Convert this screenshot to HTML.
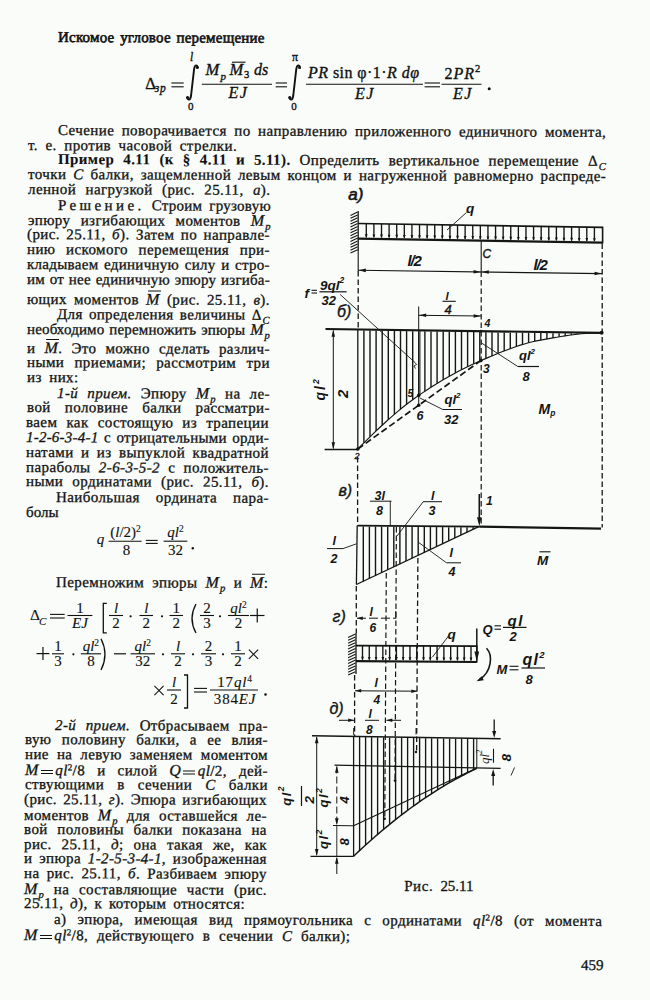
<!DOCTYPE html>
<html><head><meta charset="utf-8">
<style>
html,body{margin:0;padding:0;background:#f9fcf8;}
body{width:650px;height:1000px;position:relative;overflow:hidden;}
.ln{position:absolute;font-family:"Liberation Serif",serif;font-size:15px;line-height:15px;height:15px;white-space:nowrap;color:#111;-webkit-text-stroke:0.3px #111;
transform:rotate(0.2deg);transform-origin:0 12px;}
.j{text-align:justify;text-align-last:justify;}
sub{font-size:10.5px;vertical-align:-3.5px;line-height:0;font-style:italic;margin-left:0.8px;}
sup{font-size:9px;vertical-align:5px;line-height:0;}
.ov{position:relative;}
.ov::before{content:"";position:absolute;left:2px;right:-1px;top:0px;border-top:1.2px solid #111;}
.sp{letter-spacing:3.4px;}
.m{font-size:16px;}
.hv{-webkit-text-stroke:0.6px #111;}
.eq{display:inline-block;width:12px;height:1.9px;border-top:1.1px solid #111;border-bottom:1.1px solid #111;vertical-align:1.5px;margin:0 2.5px 0 2px;}
svg{position:absolute;left:0;top:0;}
.f{font-family:"Liberation Serif",serif;fill:#111;}
.f text{stroke:#111;stroke-width:0.25px;}
.f1 text{stroke-width:0.35px;}
.f2 text{stroke-width:0.12px;}
b{-webkit-text-stroke:0.1px #111;}
</style></head><body>
<div class="ln j hv" style="left:58.4px;top:30.0px;width:206.6px;letter-spacing:0.20px;">Искомое угловое перемещение</div>
<div class="ln j" style="left:57.9px;top:123.3px;width:548.2px;letter-spacing:0.40px;">Сечение поворачивается по направлению приложенного единичного момента,</div>
<div class="ln j" style="left:27.9px;top:137.6px;width:209.1px;letter-spacing:0.40px;">т. е. против часовой стрелки.</div>
<div class="ln j" style="left:57.8px;top:152.4px;width:548.2px;letter-spacing:0.40px;"><b>Пример 4.11 (к § 4.11 и 5.11).</b> Определить вертикальное перемещение Δ<sub>C</sub></div>
<div class="ln j" style="left:27.7px;top:167.2px;width:578.2px;letter-spacing:0.40px;">точки <i>C</i> балки, защемленной левым концом и нагруженной равномерно распреде-</div>
<div class="ln j" style="left:27.6px;top:182.0px;width:242.4px;letter-spacing:0.40px;">ленной нагрузкой (рис. 25.11, <i>а</i>).</div>
<div class="ln j" style="left:57.5px;top:197.6px;width:212.9px;letter-spacing:0.25px;"><span class="sp">Решение.</span> Строим грузовую</div>
<div class="ln j" style="left:27.5px;top:212.3px;width:242.9px;letter-spacing:0.40px;">эпюру изгибающих моментов <i class="m">M</i><sub>p</sub></div>
<div class="ln j" style="left:27.4px;top:227.3px;width:242.9px;letter-spacing:0.40px;">(рис. 25.11, <i>б</i>). Затем по направле-</div>
<div class="ln j" style="left:27.3px;top:242.1px;width:242.9px;letter-spacing:0.40px;">нию искомого перемещения при-</div>
<div class="ln j" style="left:27.2px;top:256.8px;width:242.9px;letter-spacing:0.29px;">кладываем единичную силу и стро-</div>
<div class="ln j" style="left:27.2px;top:271.5px;width:242.9px;letter-spacing:0.20px;">им от нее единичную эпюру изгиба-</div>
<div class="ln j" style="left:27.1px;top:291.2px;width:242.9px;letter-spacing:0.40px;">ющих моментов <i class="ov m">M</i> (рис. 25.11, <i>в</i>).</div>
<div class="ln j" style="left:57.0px;top:306.6px;width:212.9px;letter-spacing:0.35px;">Для определения величины Δ<sub>C</sub></div>
<div class="ln j" style="left:26.9px;top:321.4px;width:242.9px;letter-spacing:0.15px;">необходимо перемножить эпюры <i class="m">M</i><sub>p</sub></div>
<div class="ln j" style="left:26.8px;top:340.3px;width:242.9px;letter-spacing:0.40px;">и <i class="ov m">M</i>. Это можно сделать различ-</div>
<div class="ln j" style="left:26.7px;top:355.4px;width:242.9px;letter-spacing:0.40px;">ными приемами; рассмотрим три</div>
<div class="ln j" style="left:26.6px;top:370.2px;width:51.6px;letter-spacing:0.40px;">из них:</div>
<div class="ln j" style="left:56.6px;top:385.3px;width:212.9px;letter-spacing:0.40px;"><i>1-й прием.</i> Эпюру <i class="m">M</i><sub>p</sub> на ле-</div>
<div class="ln j" style="left:26.5px;top:400.3px;width:242.9px;letter-spacing:0.40px;">вой половине балки рассматри-</div>
<div class="ln j" style="left:26.4px;top:415.2px;width:242.9px;letter-spacing:0.40px;">ваем как состоящую из трапеции</div>
<div class="ln j" style="left:26.3px;top:430.2px;width:242.9px;letter-spacing:0.22px;"><i>1-2-6-3-4-1</i> с отрицательными орди-</div>
<div class="ln j" style="left:26.2px;top:444.9px;width:242.9px;letter-spacing:0.40px;">натами и из выпуклой квадратной</div>
<div class="ln j" style="left:26.2px;top:459.6px;width:242.9px;letter-spacing:0.40px;">параболы <i>2-6-3-5-2</i> с положитель-</div>
<div class="ln j" style="left:26.1px;top:474.4px;width:242.9px;letter-spacing:0.40px;">ными ординатами (рис. 25.11, <i>б</i>).</div>
<div class="ln j" style="left:56.0px;top:489.8px;width:212.9px;letter-spacing:0.40px;">Наибольшая ордината пара-</div>
<div class="ln" style="left:25.9px;top:504.6px;width:242.9px;">болы</div>
<div class="ln j" style="left:55.6px;top:574.0px;width:212.4px;letter-spacing:0.40px;">Перемножим эпюры <i class="m">M</i><sub>p</sub> и <i class="ov m">M</i>:</div>
<div class="ln j" style="left:54.8px;top:717.5px;width:212.9px;letter-spacing:0.40px;"><i>2-й прием.</i> Отбрасываем пра-</div>
<div class="ln j" style="left:24.7px;top:732.3px;width:242.9px;letter-spacing:0.40px;">вую половину балки, а ее влия-</div>
<div class="ln j" style="left:24.6px;top:747.1px;width:242.9px;letter-spacing:0.40px;">ние на левую заменяем моментом</div>
<div class="ln j" style="left:24.6px;top:762.2px;width:242.9px;letter-spacing:0.40px;"><i class="m">M</i><span class="eq"></span><i>ql</i><sup>2</sup>/8 и силой <i class="m">Q</i><span class="eq"></span><i>ql</i>/2, дей-</div>
<div class="ln j" style="left:24.5px;top:776.8px;width:242.9px;letter-spacing:0.40px;">ствующими в сечении <i>C</i> балки</div>
<div class="ln j" style="left:24.4px;top:791.6px;width:242.9px;letter-spacing:0.39px;">(рис. 25.11, <i>г</i>). Эпюра изгибающих</div>
<div class="ln j" style="left:24.3px;top:806.6px;width:242.9px;letter-spacing:0.40px;">моментов <i class="m">M</i><sub>p</sub> для оставшейся ле-</div>
<div class="ln j" style="left:24.2px;top:821.6px;width:242.9px;letter-spacing:0.40px;">вой половины балки показана на</div>
<div class="ln j" style="left:24.2px;top:836.5px;width:242.9px;letter-spacing:0.40px;">рис. 25.11, <i>д</i>; она такая же, как</div>
<div class="ln j" style="left:24.1px;top:851.3px;width:242.9px;letter-spacing:0.37px;">и эпюра <i>1-2-5-3-4-1</i>, изображенная</div>
<div class="ln j" style="left:24.0px;top:866.0px;width:242.9px;letter-spacing:0.40px;">на рис. 25.11, <i>б</i>. Разбиваем эпюру</div>
<div class="ln j" style="left:23.9px;top:880.6px;width:242.9px;letter-spacing:0.40px;"><i class="m">M</i><sub>p</sub> на составляющие части (рис.</div>
<div class="ln j" style="left:23.8px;top:896.3px;width:221.0px;letter-spacing:0.40px;">25.11, <i>д</i>), к которым относятся:</div>
<div class="ln j" style="left:53.8px;top:911.6px;width:548.2px;letter-spacing:0.40px;">а) эпюра, имеющая вид прямоугольника с ординатами <i>ql</i><sup>2</sup>/8 (от момента</div>
<div class="ln j" style="left:23.7px;top:926.5px;width:326.3px;letter-spacing:0.40px;"><i class="m">M</i><span class="eq"></span><i>ql</i><sup>2</sup>/8, действующего в сечении <i>C</i> балки);</div>
<div class="ln" style="left:581.2px;top:958.2px;width:20.5px;">459</div>
<svg class="f" width="650" height="1000" viewBox="0 0 650 1000"><g class="f1"><text x="145.2" y="88.6" font-size="16.5" text-anchor="start" >Δ</text><text x="154.8" y="91.8" font-size="11.5" font-style="italic" text-anchor="start" letter-spacing="0.8">зp</text><line x1="171.4" y1="83.0" x2="183.7" y2="83.0" stroke="#111" stroke-width="1.1"/><line x1="171.4" y1="86.80000000000001" x2="183.7" y2="86.80000000000001" stroke="#111" stroke-width="1.1"/><path d="M 197.8 67.5 C 197.3 64.5, 194.8 64.5, 194.10000000000002 69 L 191.0 96 C 190.3 100.5, 187.8 100.5, 187.10000000000002 97.5" fill="none" stroke="#111" stroke-width="1.9" stroke-linecap="round"/><circle cx="197.3" cy="67.6" r="1.5" fill="#111"/><circle cx="187.70000000000002" cy="97.4" r="1.5" fill="#111"/><text x="191.5" y="61" font-size="11.5" font-style="italic" text-anchor="middle" >l</text><text x="190.8" y="109.5" font-size="11" text-anchor="middle" >0</text><line x1="201.8" y1="84.2" x2="272" y2="84.2" stroke="#111" stroke-width="1.1"/><text x="205.5" y="75.3" font-size="16.5" font-style="italic" text-anchor="start" >M</text><text x="220.5" y="79.5" font-size="11" font-style="italic" text-anchor="start" >p</text><text x="229.5" y="75.3" font-size="16.5" font-style="italic" text-anchor="start" >M</text><line x1="232" y1="62.2" x2="245.5" y2="62.2" stroke="#111" stroke-width="1.1"/><text x="244" y="78.4" font-size="10.5" text-anchor="start" >3</text><text x="254" y="75.3" font-size="16" font-style="italic" text-anchor="start" >ds</text><text x="238.5" y="97.8" font-size="16" font-style="italic" text-anchor="middle" letter-spacing="1.5">EJ</text><line x1="275.7" y1="83.0" x2="287" y2="83.0" stroke="#111" stroke-width="1.1"/><line x1="275.7" y1="86.80000000000001" x2="287" y2="86.80000000000001" stroke="#111" stroke-width="1.1"/><path d="M 300.0 67.5 C 299.5 64.5, 297.0 64.5, 296.3 69 L 293.2 96 C 292.5 100.5, 290.0 100.5, 289.3 97.5" fill="none" stroke="#111" stroke-width="1.9" stroke-linecap="round"/><circle cx="299.5" cy="67.6" r="1.5" fill="#111"/><circle cx="289.9" cy="97.4" r="1.5" fill="#111"/><text x="295" y="61" font-size="12" text-anchor="middle" >π</text><text x="294" y="109.5" font-size="11" text-anchor="middle" >0</text><line x1="306" y1="84.2" x2="423" y2="84.2" stroke="#111" stroke-width="1.1"/><text x="308" y="78" font-size="16" textLength="111" lengthAdjust="spacing"><tspan font-style="italic">PR</tspan> sin φ·1·<tspan font-style="italic">R dφ</tspan></text><text x="365" y="99" font-size="16" font-style="italic" text-anchor="middle" letter-spacing="1.5">EJ</text><line x1="424.6" y1="83.0" x2="440" y2="83.0" stroke="#111" stroke-width="1.1"/><line x1="424.6" y1="86.80000000000001" x2="440" y2="86.80000000000001" stroke="#111" stroke-width="1.1"/><line x1="441.5" y1="84.2" x2="481.5" y2="84.2" stroke="#111" stroke-width="1.1"/><text x="444.5" y="78.8" font-size="16" letter-spacing="1">2<tspan font-style="italic">PR</tspan><tspan font-size="10.5" dy="-6.5">2</tspan></text><text x="463" y="99" font-size="16" font-style="italic" text-anchor="middle" letter-spacing="1.5">EJ</text><circle cx="489.2" cy="88.8" r="1.5" fill="#111"/></g><g class="f2"><text x="96.8" y="543.5" font-size="15" font-style="italic" text-anchor="start" >q</text><line x1="108.6" y1="541.2" x2="141.6" y2="541.2" stroke="#111" stroke-width="1.1"/><text x="125.5" y="536.5" font-size="15" text-anchor="middle">(<tspan font-style="italic">l</tspan>/2)<tspan font-size="9.5" dy="-5">2</tspan></text><text x="126.4" y="554.7" font-size="15" text-anchor="middle" >8</text><line x1="145.8" y1="540.4" x2="157.7" y2="540.4" stroke="#111" stroke-width="1.1"/><line x1="145.8" y1="543.4" x2="157.7" y2="543.4" stroke="#111" stroke-width="1.1"/><line x1="163.6" y1="541.2" x2="187.3" y2="541.2" stroke="#111" stroke-width="1.1"/><text x="175.5" y="536.5" font-size="15" text-anchor="middle"><tspan font-style="italic">ql</tspan><tspan font-size="9.5" dy="-5">2</tspan></text><text x="175.5" y="554.7" font-size="15" text-anchor="middle" >32</text><circle cx="192.8" cy="548.3" r="1.2" fill="#111"/><text x="30" y="620.2" font-size="15.5" text-anchor="start" >Δ</text><text x="39" y="624.5" font-size="11" font-style="italic" text-anchor="start" >C</text><line x1="50" y1="614.4000000000001" x2="64.7" y2="614.4000000000001" stroke="#111" stroke-width="1.1"/><line x1="50" y1="618.0" x2="64.7" y2="618.0" stroke="#111" stroke-width="1.1"/><line x1="67.5" y1="615.5" x2="92.4" y2="615.5" stroke="#111" stroke-width="1.1"/><text x="79.95" y="612.6" font-size="15" text-anchor="middle">1</text><text x="79.95" y="628.3" font-size="15" text-anchor="middle"><tspan font-style="italic">EJ</tspan></text><path d="M106.8,603.3 L103.3,603.3 L103.3,632.8 L106.8,632.8" fill="none" stroke="#111" stroke-width="1.3"/><line x1="109" y1="615.5" x2="123" y2="615.5" stroke="#111" stroke-width="1.1"/><text x="116.0" y="612.6" font-size="15" text-anchor="middle"><tspan font-style="italic">l</tspan></text><text x="116.0" y="628.3" font-size="15" text-anchor="middle">2</text><circle cx="130.6" cy="616.3" r="1.1" fill="#111"/><line x1="139.5" y1="615.5" x2="153" y2="615.5" stroke="#111" stroke-width="1.1"/><text x="146.25" y="612.6" font-size="15" text-anchor="middle"><tspan font-style="italic">l</tspan></text><text x="146.25" y="628.3" font-size="15" text-anchor="middle">2</text><circle cx="162" cy="616.3" r="1.1" fill="#111"/><line x1="169.5" y1="615.5" x2="183" y2="615.5" stroke="#111" stroke-width="1.1"/><text x="176.25" y="612.6" font-size="15" text-anchor="middle">1</text><text x="176.25" y="628.3" font-size="15" text-anchor="middle">2</text><path d="M196,604 Q188.0,618.5 196,633" fill="none" stroke="#111" stroke-width="1.3"/><line x1="200" y1="615.5" x2="214" y2="615.5" stroke="#111" stroke-width="1.1"/><text x="207.0" y="612.6" font-size="15" text-anchor="middle">2</text><text x="207.0" y="628.3" font-size="15" text-anchor="middle">3</text><circle cx="220" cy="616.3" r="1.1" fill="#111"/><line x1="228" y1="615.5" x2="249" y2="615.5" stroke="#111" stroke-width="1.1"/><text x="238.5" y="612.6" font-size="15" text-anchor="middle"><tspan font-style="italic">ql</tspan><tspan font-size="9.5" dy="-5">2</tspan></text><text x="238.5" y="628.3" font-size="15" text-anchor="middle">2</text><line x1="250" y1="615.5" x2="264.5" y2="615.5" stroke="#111" stroke-width="1.2"/><line x1="257.25" y1="608.5" x2="257.25" y2="622.5" stroke="#111" stroke-width="1.2"/><line x1="36.5" y1="653.6" x2="49.4" y2="653.6" stroke="#111" stroke-width="1.2"/><line x1="42.95" y1="647.1" x2="42.95" y2="660.1" stroke="#111" stroke-width="1.2"/><line x1="52" y1="653.8" x2="64" y2="653.8" stroke="#111" stroke-width="1.1"/><text x="58.0" y="651.3" font-size="15" text-anchor="middle">1</text><text x="58.0" y="666.4" font-size="15" text-anchor="middle">3</text><circle cx="73.4" cy="654.3" r="1.1" fill="#111"/><line x1="80.8" y1="653.8" x2="101" y2="653.8" stroke="#111" stroke-width="1.1"/><text x="90.9" y="651.3" font-size="15" text-anchor="middle"><tspan font-style="italic">ql</tspan><tspan font-size="9.5" dy="-5">2</tspan></text><text x="90.9" y="666.4" font-size="15" text-anchor="middle">8</text><path d="M101,638.7 Q109.0,654.35 101,670" fill="none" stroke="#111" stroke-width="1.3"/><line x1="114" y1="653.8" x2="126" y2="653.8" stroke="#111" stroke-width="1.2"/><line x1="130.6" y1="653.8" x2="155" y2="653.8" stroke="#111" stroke-width="1.1"/><text x="142.8" y="651.3" font-size="15" text-anchor="middle"><tspan font-style="italic">ql</tspan><tspan font-size="9.5" dy="-5">2</tspan></text><text x="142.8" y="666.4" font-size="15" text-anchor="middle">32</text><circle cx="163" cy="654.3" r="1.1" fill="#111"/><line x1="171" y1="653.8" x2="185" y2="653.8" stroke="#111" stroke-width="1.1"/><text x="178.0" y="651.3" font-size="15" text-anchor="middle"><tspan font-style="italic">l</tspan></text><text x="178.0" y="666.4" font-size="15" text-anchor="middle">2</text><circle cx="193" cy="654.3" r="1.1" fill="#111"/><line x1="201" y1="653.8" x2="216" y2="653.8" stroke="#111" stroke-width="1.1"/><text x="208.5" y="651.3" font-size="15" text-anchor="middle">2</text><text x="208.5" y="666.4" font-size="15" text-anchor="middle">3</text><circle cx="223" cy="654.3" r="1.1" fill="#111"/><line x1="231" y1="653.8" x2="245" y2="653.8" stroke="#111" stroke-width="1.1"/><text x="238.0" y="651.3" font-size="15" text-anchor="middle">1</text><text x="238.0" y="666.4" font-size="15" text-anchor="middle">2</text><line x1="248.9" y1="649.6" x2="258.1" y2="658.8000000000001" stroke="#111" stroke-width="1.1"/><line x1="248.9" y1="658.8000000000001" x2="258.1" y2="649.6" stroke="#111" stroke-width="1.1"/><line x1="154.4" y1="685.9" x2="163.6" y2="695.1" stroke="#111" stroke-width="1.1"/><line x1="154.4" y1="695.1" x2="163.6" y2="685.9" stroke="#111" stroke-width="1.1"/><line x1="167" y1="690" x2="181" y2="690" stroke="#111" stroke-width="1.1"/><text x="174.0" y="686.8" font-size="15" text-anchor="middle"><tspan font-style="italic">l</tspan></text><text x="174.0" y="704" font-size="15" text-anchor="middle">2</text><path d="M184.0,675 L187.5,675 L187.5,708 L184.0,708" fill="none" stroke="#111" stroke-width="1.3"/><line x1="194" y1="688.4000000000001" x2="207" y2="688.4000000000001" stroke="#111" stroke-width="1.1"/><line x1="194" y1="692.0" x2="207" y2="692.0" stroke="#111" stroke-width="1.1"/><line x1="210" y1="690" x2="258" y2="690" stroke="#111" stroke-width="1.1"/><text x="235" y="686.8" font-size="15" text-anchor="middle" letter-spacing="0.8">17<tspan font-style="italic">ql</tspan><tspan font-size="9.5" dy="-5">4</tspan></text><text x="235" y="704" font-size="15" text-anchor="middle" letter-spacing="0.8">384<tspan font-style="italic">EJ</tspan></text><circle cx="265.5" cy="694.5" r="1.3" fill="#111"/></g></svg>
<svg width="650" height="1000" viewBox="0 0 650 1000"><text x="348.20" y="200.30" font-family="Liberation Sans" font-size="17" font-style="italic" font-weight="normal" text-anchor="start" fill="#151515" stroke="#151515" stroke-width="0.6">а)</text><line x1="358.20" y1="211.00" x2="358.20" y2="251.50" stroke="#151515" stroke-width="1.3" stroke-linecap="butt"/><line x1="350.50" y1="215.40" x2="357.60" y2="212.00" stroke="#151515" stroke-width="1.1" stroke-linecap="butt"/><line x1="350.50" y1="218.30" x2="357.60" y2="214.90" stroke="#151515" stroke-width="1.1" stroke-linecap="butt"/><line x1="350.50" y1="221.20" x2="357.60" y2="217.80" stroke="#151515" stroke-width="1.1" stroke-linecap="butt"/><line x1="350.50" y1="224.10" x2="357.60" y2="220.70" stroke="#151515" stroke-width="1.1" stroke-linecap="butt"/><line x1="350.50" y1="227.00" x2="357.60" y2="223.60" stroke="#151515" stroke-width="1.1" stroke-linecap="butt"/><line x1="350.50" y1="229.90" x2="357.60" y2="226.50" stroke="#151515" stroke-width="1.1" stroke-linecap="butt"/><line x1="350.50" y1="232.80" x2="357.60" y2="229.40" stroke="#151515" stroke-width="1.1" stroke-linecap="butt"/><line x1="350.50" y1="235.70" x2="357.60" y2="232.30" stroke="#151515" stroke-width="1.1" stroke-linecap="butt"/><line x1="350.50" y1="238.60" x2="357.60" y2="235.20" stroke="#151515" stroke-width="1.1" stroke-linecap="butt"/><line x1="350.50" y1="241.50" x2="357.60" y2="238.10" stroke="#151515" stroke-width="1.1" stroke-linecap="butt"/><line x1="350.50" y1="244.40" x2="357.60" y2="241.00" stroke="#151515" stroke-width="1.1" stroke-linecap="butt"/><line x1="350.50" y1="247.30" x2="357.60" y2="243.90" stroke="#151515" stroke-width="1.1" stroke-linecap="butt"/><line x1="350.50" y1="250.20" x2="357.60" y2="246.80" stroke="#151515" stroke-width="1.1" stroke-linecap="butt"/><line x1="350.50" y1="253.10" x2="357.60" y2="249.70" stroke="#151515" stroke-width="1.1" stroke-linecap="butt"/><line x1="358.20" y1="223.50" x2="602.60" y2="227.40" stroke="#151515" stroke-width="1.7" stroke-linecap="butt"/><line x1="357.70" y1="238.60" x2="602.60" y2="242.70" stroke="#151515" stroke-width="2.2" stroke-linecap="butt"/><line x1="602.60" y1="226.60" x2="602.60" y2="243.50" stroke="#151515" stroke-width="1.6" stroke-linecap="butt"/><line x1="366.30" y1="223.63" x2="366.30" y2="237.24" stroke="#151515" stroke-width="1.35" stroke-linecap="butt"/><path d="M366.30,237.74 L364.90,234.34 L367.70,234.34 Z" fill="#151515"/><line x1="373.90" y1="223.75" x2="373.90" y2="237.36" stroke="#151515" stroke-width="1.35" stroke-linecap="butt"/><path d="M373.90,237.86 L372.50,234.46 L375.30,234.46 Z" fill="#151515"/><line x1="381.51" y1="223.87" x2="381.51" y2="237.49" stroke="#151515" stroke-width="1.35" stroke-linecap="butt"/><path d="M381.51,237.99 L380.11,234.59 L382.91,234.59 Z" fill="#151515"/><line x1="389.11" y1="223.99" x2="389.11" y2="237.62" stroke="#151515" stroke-width="1.35" stroke-linecap="butt"/><path d="M389.11,238.12 L387.71,234.72 L390.51,234.72 Z" fill="#151515"/><line x1="396.71" y1="224.11" x2="396.71" y2="237.75" stroke="#151515" stroke-width="1.35" stroke-linecap="butt"/><path d="M396.71,238.25 L395.31,234.85 L398.11,234.85 Z" fill="#151515"/><line x1="404.32" y1="224.24" x2="404.32" y2="237.87" stroke="#151515" stroke-width="1.35" stroke-linecap="butt"/><path d="M404.32,238.37 L402.92,234.97 L405.72,234.97 Z" fill="#151515"/><line x1="411.92" y1="224.36" x2="411.92" y2="238.00" stroke="#151515" stroke-width="1.35" stroke-linecap="butt"/><path d="M411.92,238.50 L410.52,235.10 L413.32,235.10 Z" fill="#151515"/><line x1="419.52" y1="224.48" x2="419.52" y2="238.13" stroke="#151515" stroke-width="1.35" stroke-linecap="butt"/><path d="M419.52,238.63 L418.12,235.23 L420.92,235.23 Z" fill="#151515"/><line x1="427.13" y1="224.60" x2="427.13" y2="238.26" stroke="#151515" stroke-width="1.35" stroke-linecap="butt"/><path d="M427.13,238.76 L425.73,235.36 L428.53,235.36 Z" fill="#151515"/><line x1="434.73" y1="224.72" x2="434.73" y2="238.38" stroke="#151515" stroke-width="1.35" stroke-linecap="butt"/><path d="M434.73,238.88 L433.33,235.48 L436.13,235.48 Z" fill="#151515"/><line x1="442.33" y1="224.84" x2="442.33" y2="238.51" stroke="#151515" stroke-width="1.35" stroke-linecap="butt"/><path d="M442.33,239.01 L440.93,235.61 L443.73,235.61 Z" fill="#151515"/><line x1="449.94" y1="224.96" x2="449.94" y2="238.64" stroke="#151515" stroke-width="1.35" stroke-linecap="butt"/><path d="M449.94,239.14 L448.54,235.74 L451.34,235.74 Z" fill="#151515"/><line x1="457.54" y1="225.09" x2="457.54" y2="238.77" stroke="#151515" stroke-width="1.35" stroke-linecap="butt"/><path d="M457.54,239.27 L456.14,235.87 L458.94,235.87 Z" fill="#151515"/><line x1="465.14" y1="225.21" x2="465.14" y2="238.89" stroke="#151515" stroke-width="1.35" stroke-linecap="butt"/><path d="M465.14,239.39 L463.74,235.99 L466.54,235.99 Z" fill="#151515"/><line x1="472.75" y1="225.33" x2="472.75" y2="239.02" stroke="#151515" stroke-width="1.35" stroke-linecap="butt"/><path d="M472.75,239.52 L471.35,236.12 L474.15,236.12 Z" fill="#151515"/><line x1="480.35" y1="225.45" x2="480.35" y2="239.15" stroke="#151515" stroke-width="1.35" stroke-linecap="butt"/><path d="M480.35,239.65 L478.95,236.25 L481.75,236.25 Z" fill="#151515"/><line x1="487.95" y1="225.57" x2="487.95" y2="239.28" stroke="#151515" stroke-width="1.35" stroke-linecap="butt"/><path d="M487.95,239.78 L486.55,236.38 L489.35,236.38 Z" fill="#151515"/><line x1="495.56" y1="225.69" x2="495.56" y2="239.40" stroke="#151515" stroke-width="1.35" stroke-linecap="butt"/><path d="M495.56,239.90 L494.16,236.50 L496.96,236.50 Z" fill="#151515"/><line x1="503.16" y1="225.81" x2="503.16" y2="239.53" stroke="#151515" stroke-width="1.35" stroke-linecap="butt"/><path d="M503.16,240.03 L501.76,236.63 L504.56,236.63 Z" fill="#151515"/><line x1="510.76" y1="225.93" x2="510.76" y2="239.66" stroke="#151515" stroke-width="1.35" stroke-linecap="butt"/><path d="M510.76,240.16 L509.36,236.76 L512.16,236.76 Z" fill="#151515"/><line x1="518.37" y1="226.06" x2="518.37" y2="239.79" stroke="#151515" stroke-width="1.35" stroke-linecap="butt"/><path d="M518.37,240.29 L516.97,236.89 L519.77,236.89 Z" fill="#151515"/><line x1="525.97" y1="226.18" x2="525.97" y2="239.91" stroke="#151515" stroke-width="1.35" stroke-linecap="butt"/><path d="M525.97,240.41 L524.57,237.01 L527.37,237.01 Z" fill="#151515"/><line x1="533.57" y1="226.30" x2="533.57" y2="240.04" stroke="#151515" stroke-width="1.35" stroke-linecap="butt"/><path d="M533.57,240.54 L532.17,237.14 L534.97,237.14 Z" fill="#151515"/><line x1="541.18" y1="226.42" x2="541.18" y2="240.17" stroke="#151515" stroke-width="1.35" stroke-linecap="butt"/><path d="M541.18,240.67 L539.78,237.27 L542.58,237.27 Z" fill="#151515"/><line x1="548.78" y1="226.54" x2="548.78" y2="240.30" stroke="#151515" stroke-width="1.35" stroke-linecap="butt"/><path d="M548.78,240.80 L547.38,237.40 L550.18,237.40 Z" fill="#151515"/><line x1="556.38" y1="226.66" x2="556.38" y2="240.42" stroke="#151515" stroke-width="1.35" stroke-linecap="butt"/><path d="M556.38,240.92 L554.98,237.52 L557.78,237.52 Z" fill="#151515"/><line x1="563.99" y1="226.78" x2="563.99" y2="240.55" stroke="#151515" stroke-width="1.35" stroke-linecap="butt"/><path d="M563.99,241.05 L562.59,237.65 L565.39,237.65 Z" fill="#151515"/><line x1="571.59" y1="226.91" x2="571.59" y2="240.68" stroke="#151515" stroke-width="1.35" stroke-linecap="butt"/><path d="M571.59,241.18 L570.19,237.78 L572.99,237.78 Z" fill="#151515"/><line x1="579.19" y1="227.03" x2="579.19" y2="240.81" stroke="#151515" stroke-width="1.35" stroke-linecap="butt"/><path d="M579.19,241.31 L577.79,237.91 L580.59,237.91 Z" fill="#151515"/><line x1="586.80" y1="227.15" x2="586.80" y2="240.93" stroke="#151515" stroke-width="1.35" stroke-linecap="butt"/><path d="M586.80,241.43 L585.40,238.03 L588.20,238.03 Z" fill="#151515"/><line x1="594.40" y1="227.27" x2="594.40" y2="241.06" stroke="#151515" stroke-width="1.35" stroke-linecap="butt"/><path d="M594.40,241.56 L593.00,238.16 L595.80,238.16 Z" fill="#151515"/><text x="466.00" y="212.50" font-family="Liberation Sans" font-size="13.5" font-style="italic" font-weight="bold" text-anchor="start" fill="#151515">q</text><line x1="466.50" y1="212.50" x2="447.00" y2="230.00" stroke="#151515" stroke-width="0.9" stroke-linecap="butt"/><line x1="481.20" y1="241.20" x2="481.20" y2="271.50" stroke="#151515" stroke-width="1.1" stroke-linecap="butt"/><line x1="481.20" y1="271.50" x2="481.20" y2="525.50" stroke="#151515" stroke-width="1.2" stroke-dasharray="5.5,3" stroke-linecap="butt"/><text x="482.50" y="257.80" font-family="Liberation Sans" font-size="12" font-style="italic" font-weight="normal" text-anchor="start" fill="#151515" stroke="#151515" stroke-width="0.4">C</text><line x1="358.20" y1="251.50" x2="358.20" y2="271.00" stroke="#151515" stroke-width="1.1" stroke-linecap="butt"/><line x1="358.20" y1="271.00" x2="358.20" y2="329.00" stroke="#151515" stroke-width="1.3" stroke-dasharray="5.5,3" stroke-linecap="butt"/><line x1="602.20" y1="243.50" x2="602.20" y2="527.50" stroke="#151515" stroke-width="1.3" stroke-dasharray="5.5,3" stroke-linecap="butt"/><line x1="358.20" y1="270.30" x2="602.20" y2="273.60" stroke="#151515" stroke-width="1.1" stroke-linecap="butt"/><path d="M358.80,270.30 L365.82,268.59 L365.78,272.19 Z" fill="#151515"/><path d="M480.60,271.90 L473.58,273.61 L473.62,270.01 Z" fill="#151515"/><path d="M481.80,271.90 L488.82,270.19 L488.78,273.79 Z" fill="#151515"/><path d="M601.60,273.60 L594.58,275.31 L594.62,271.71 Z" fill="#151515"/><text x="407.50" y="266.20" font-family="Liberation Sans" font-size="15" font-style="italic" font-weight="bold" text-anchor="start" fill="#151515" letter-spacing="-1.2">l/2</text><text x="533.50" y="270.30" font-family="Liberation Sans" font-size="15" font-style="italic" font-weight="bold" text-anchor="start" fill="#151515" letter-spacing="-1.2">l/2</text><text x="304.50" y="297.50" font-family="Liberation Sans" font-size="13.5" font-style="italic" font-weight="bold" text-anchor="start" fill="#151515">f</text><line x1="311.50" y1="290.30" x2="317.00" y2="290.30" stroke="#151515" stroke-width="1.1" stroke-linecap="butt"/><line x1="311.50" y1="293.00" x2="317.00" y2="293.00" stroke="#151515" stroke-width="1.1" stroke-linecap="butt"/><text x="320.00" y="289.50" font-family="Liberation Sans" font-size="13.5" font-style="italic" font-weight="bold" text-anchor="start" fill="#151515">9ql<tspan font-size="8.5" dy="-6.5">2</tspan></text><line x1="319.40" y1="291.80" x2="346.60" y2="291.80" stroke="#151515" stroke-width="1.2" stroke-linecap="butt"/><text x="321.50" y="305.00" font-family="Liberation Sans" font-size="13" font-style="italic" font-weight="bold" text-anchor="start" fill="#151515">32</text><line x1="340.20" y1="294.50" x2="415.00" y2="362.50" stroke="#151515" stroke-width="0.9" stroke-linecap="butt"/><polyline points="415.00,362.50 416.50,364.50 414.00,366.00 415.50,368.50" fill="none" stroke="#151515" stroke-width="0.9" stroke-linejoin="round"/><text x="337.00" y="317.00" font-family="Liberation Sans" font-size="16" font-style="italic" font-weight="normal" text-anchor="start" fill="#151515" stroke="#151515" stroke-width="0.4">б)</text><line x1="325.50" y1="329.00" x2="601.60" y2="332.80" stroke="#151515" stroke-width="2.2" stroke-linecap="butt"/><circle cx="601.60" cy="332.80" r="2.0" fill="#151515"/><line x1="357.80" y1="329.44" x2="357.80" y2="449.00" stroke="#151515" stroke-width="1.3" stroke-linecap="butt"/><line x1="363.90" y1="330.53" x2="363.90" y2="442.87" stroke="#151515" stroke-width="1.4" stroke-linecap="butt"/><line x1="370.00" y1="330.61" x2="370.00" y2="436.85" stroke="#151515" stroke-width="1.4" stroke-linecap="butt"/><line x1="376.10" y1="330.70" x2="376.10" y2="430.96" stroke="#151515" stroke-width="1.4" stroke-linecap="butt"/><line x1="382.20" y1="330.78" x2="382.20" y2="425.22" stroke="#151515" stroke-width="1.4" stroke-linecap="butt"/><line x1="388.30" y1="330.86" x2="388.30" y2="419.66" stroke="#151515" stroke-width="1.4" stroke-linecap="butt"/><line x1="394.40" y1="330.95" x2="394.40" y2="414.30" stroke="#151515" stroke-width="1.4" stroke-linecap="butt"/><line x1="400.50" y1="331.03" x2="400.50" y2="409.16" stroke="#151515" stroke-width="1.4" stroke-linecap="butt"/><line x1="406.60" y1="331.12" x2="406.60" y2="404.27" stroke="#151515" stroke-width="1.4" stroke-linecap="butt"/><line x1="412.70" y1="331.20" x2="412.70" y2="399.65" stroke="#151515" stroke-width="1.4" stroke-linecap="butt"/><line x1="418.80" y1="331.28" x2="418.80" y2="395.33" stroke="#151515" stroke-width="1.4" stroke-linecap="butt"/><line x1="424.90" y1="331.37" x2="424.90" y2="391.23" stroke="#151515" stroke-width="1.4" stroke-linecap="butt"/><line x1="431.00" y1="331.45" x2="431.00" y2="387.27" stroke="#151515" stroke-width="1.4" stroke-linecap="butt"/><line x1="437.10" y1="331.54" x2="437.10" y2="383.46" stroke="#151515" stroke-width="1.4" stroke-linecap="butt"/><line x1="443.20" y1="331.62" x2="443.20" y2="379.80" stroke="#151515" stroke-width="1.4" stroke-linecap="butt"/><line x1="449.30" y1="331.70" x2="449.30" y2="376.28" stroke="#151515" stroke-width="1.4" stroke-linecap="butt"/><line x1="455.40" y1="331.79" x2="455.40" y2="372.92" stroke="#151515" stroke-width="1.4" stroke-linecap="butt"/><line x1="461.50" y1="331.87" x2="461.50" y2="369.72" stroke="#151515" stroke-width="1.4" stroke-linecap="butt"/><line x1="467.60" y1="331.96" x2="467.60" y2="366.67" stroke="#151515" stroke-width="1.4" stroke-linecap="butt"/><line x1="473.70" y1="332.04" x2="473.70" y2="363.79" stroke="#151515" stroke-width="1.4" stroke-linecap="butt"/><line x1="479.80" y1="332.12" x2="479.80" y2="361.07" stroke="#151515" stroke-width="1.4" stroke-linecap="butt"/><line x1="485.90" y1="332.21" x2="485.90" y2="358.47" stroke="#151515" stroke-width="1.4" stroke-linecap="butt"/><line x1="492.00" y1="332.29" x2="492.00" y2="355.89" stroke="#151515" stroke-width="1.4" stroke-linecap="butt"/><line x1="498.10" y1="332.38" x2="498.10" y2="353.36" stroke="#151515" stroke-width="1.4" stroke-linecap="butt"/><line x1="504.20" y1="332.46" x2="504.20" y2="350.93" stroke="#151515" stroke-width="1.4" stroke-linecap="butt"/><line x1="510.30" y1="332.54" x2="510.30" y2="348.62" stroke="#151515" stroke-width="1.4" stroke-linecap="butt"/><line x1="516.40" y1="332.63" x2="516.40" y2="346.46" stroke="#151515" stroke-width="1.4" stroke-linecap="butt"/><line x1="522.50" y1="332.71" x2="522.50" y2="344.49" stroke="#151515" stroke-width="1.4" stroke-linecap="butt"/><line x1="528.60" y1="332.80" x2="528.60" y2="342.75" stroke="#151515" stroke-width="1.4" stroke-linecap="butt"/><line x1="534.70" y1="332.88" x2="534.70" y2="341.26" stroke="#151515" stroke-width="1.4" stroke-linecap="butt"/><line x1="540.80" y1="332.96" x2="540.80" y2="340.06" stroke="#151515" stroke-width="1.4" stroke-linecap="butt"/><line x1="546.90" y1="333.05" x2="546.90" y2="338.96" stroke="#151515" stroke-width="1.4" stroke-linecap="butt"/><line x1="553.00" y1="333.13" x2="553.00" y2="337.88" stroke="#151515" stroke-width="1.4" stroke-linecap="butt"/><line x1="559.10" y1="333.22" x2="559.10" y2="336.83" stroke="#151515" stroke-width="1.4" stroke-linecap="butt"/><line x1="565.20" y1="333.30" x2="565.20" y2="335.85" stroke="#151515" stroke-width="1.4" stroke-linecap="butt"/><line x1="571.30" y1="333.38" x2="571.30" y2="334.95" stroke="#151515" stroke-width="1.4" stroke-linecap="butt"/><line x1="577.40" y1="333.47" x2="577.40" y2="334.18" stroke="#151515" stroke-width="1.4" stroke-linecap="butt"/><line x1="583.50" y1="333.55" x2="583.50" y2="333.55" stroke="#151515" stroke-width="1.4" stroke-linecap="butt"/><line x1="589.60" y1="333.63" x2="589.60" y2="333.09" stroke="#151515" stroke-width="1.4" stroke-linecap="butt"/><line x1="595.70" y1="333.72" x2="595.70" y2="332.83" stroke="#151515" stroke-width="1.4" stroke-linecap="butt"/><polyline points="357.80,449.00 361.86,444.91 365.93,440.86 369.99,436.86 374.05,432.92 378.12,429.04 382.18,425.24 386.24,421.51 390.31,417.87 394.37,414.32 398.43,410.87 402.50,407.53 406.56,404.30 410.62,401.19 414.69,398.21 418.75,395.37 422.81,392.62 426.88,389.93 430.94,387.31 435.00,384.75 439.07,382.26 443.13,379.84 447.19,377.48 451.26,375.19 455.32,372.96 459.38,370.81 463.45,368.73 467.51,366.72 471.57,364.78 475.64,362.91 479.70,361.12 483.76,359.38 487.83,357.65 491.89,355.93 495.95,354.24 500.02,352.59 504.08,350.98 508.14,349.42 512.21,347.93 516.27,346.51 520.33,345.17 524.40,343.93 528.46,342.79 532.52,341.76 536.59,340.86 540.65,340.08 544.71,339.36 548.78,338.63 552.84,337.91 556.90,337.20 560.97,336.52 565.03,335.87 569.09,335.26 573.16,334.70 577.22,334.20 581.28,333.76 585.35,333.39 589.41,333.10 593.47,332.90 597.54,332.80 601.60,332.80" fill="none" stroke="#151515" stroke-width="1.15" stroke-linejoin="round"/><line x1="357.80" y1="449.00" x2="480.90" y2="360.60" stroke="#151515" stroke-width="1.7" stroke-dasharray="6.5,3.2" stroke-linecap="butt"/><circle cx="357.80" cy="449.00" r="1.8" fill="#151515"/><circle cx="480.90" cy="360.60" r="1.8" fill="#151515"/><circle cx="418.70" cy="395.40" r="1.8" fill="#151515"/><circle cx="418.70" cy="405.27" r="1.8" fill="#151515"/><circle cx="480.90" cy="331.14" r="1.3" fill="#151515"/><line x1="418.70" y1="306.50" x2="418.70" y2="405.27" stroke="#151515" stroke-width="1.0" stroke-linecap="butt"/><line x1="420.10" y1="330.28" x2="420.10" y2="395.40" stroke="#151515" stroke-width="0.7" stroke-linecap="butt"/><line x1="418.70" y1="315.30" x2="481.20" y2="316.00" stroke="#151515" stroke-width="1.0" stroke-linecap="butt"/><path d="M419.20,315.30 L426.20,313.50 L426.20,317.10 Z" fill="#151515"/><path d="M480.60,316.00 L473.60,317.80 L473.60,314.20 Z" fill="#151515"/><text x="445.50" y="300.30" font-family="Liberation Sans" font-size="11.5" font-style="italic" font-weight="bold" text-anchor="start" fill="#151515">l</text><line x1="442.50" y1="301.30" x2="455.70" y2="301.30" stroke="#151515" stroke-width="1.1" stroke-linecap="butt"/><text x="444.50" y="314.20" font-family="Liberation Sans" font-size="13" font-style="italic" font-weight="normal" text-anchor="start" fill="#151515" stroke="#151515" stroke-width="0.4">4</text><text x="484.50" y="327.00" font-family="Liberation Sans" font-size="10.5" font-style="italic" font-weight="bold" text-anchor="start" fill="#151515">4</text><text x="407.50" y="397.00" font-family="Liberation Sans" font-size="10.5" font-style="italic" font-weight="bold" text-anchor="start" fill="#151515">5</text><text x="416.50" y="420.00" font-family="Liberation Sans" font-size="12.5" font-style="italic" font-weight="bold" text-anchor="start" fill="#151515">6</text><text x="483.00" y="372.50" font-family="Liberation Sans" font-size="12" font-style="italic" font-weight="bold" text-anchor="start" fill="#151515">3</text><line x1="419.70" y1="397.90" x2="442.80" y2="409.50" stroke="#151515" stroke-width="0.9" stroke-linecap="butt"/><line x1="442.80" y1="409.50" x2="462.00" y2="409.50" stroke="#151515" stroke-width="1.0" stroke-linecap="butt"/><text x="444.50" y="404.00" font-family="Liberation Sans" font-size="13" font-style="italic" font-weight="bold" text-anchor="start" fill="#151515">ql<tspan font-size="8" dy="-6">2</tspan></text><text x="444.00" y="423.50" font-family="Liberation Sans" font-size="13" font-style="italic" font-weight="bold" text-anchor="start" fill="#151515">32</text><line x1="481.50" y1="343.00" x2="517.80" y2="366.50" stroke="#151515" stroke-width="0.9" stroke-linecap="butt"/><line x1="517.80" y1="366.50" x2="539.00" y2="366.50" stroke="#151515" stroke-width="1.2" stroke-linecap="butt"/><text x="519.00" y="360.00" font-family="Liberation Sans" font-size="13" font-style="italic" font-weight="bold" text-anchor="start" fill="#151515">ql<tspan font-size="8" dy="-6">2</tspan></text><text x="522.50" y="381.00" font-family="Liberation Sans" font-size="13" font-style="italic" font-weight="bold" text-anchor="start" fill="#151515">8</text><text x="538.50" y="414.00" font-family="Liberation Sans" font-size="14" font-style="italic" font-weight="bold" text-anchor="start" fill="#151515">M<tspan font-size="8.5" dy="1.5">p</tspan></text><line x1="333.30" y1="330.50" x2="333.30" y2="448.50" stroke="#151515" stroke-width="1.0" stroke-linecap="butt"/><path d="M333.30,329.80 L335.10,336.80 L331.50,336.80 Z" fill="#151515"/><path d="M333.30,449.20 L331.50,442.20 L335.10,442.20 Z" fill="#151515"/><line x1="324.60" y1="449.50" x2="357.80" y2="449.50" stroke="#151515" stroke-width="1.3" stroke-linecap="butt"/><text x="325.20" y="400.50" font-family="Liberation Sans" font-size="14" font-style="italic" font-weight="bold" text-anchor="start" fill="#151515" transform="rotate(-90 325.20 400.50)" letter-spacing="2">ql<tspan font-size="8.5" dy="-6.5">2</tspan></text><line x1="338.00" y1="375.00" x2="338.00" y2="396.00" stroke="#151515" stroke-width="0.0" stroke-linecap="butt"/><text x="348.30" y="398.00" font-family="Liberation Sans" font-size="15" font-style="italic" font-weight="bold" text-anchor="start" fill="#151515" transform="rotate(-90 348.30 398.00)">2</text><text x="354.50" y="458.50" font-family="Liberation Sans" font-size="9" font-style="italic" font-weight="normal" text-anchor="start" fill="#151515" stroke="#151515" stroke-width="0.3">2</text><line x1="357.60" y1="457.00" x2="357.60" y2="525.50" stroke="#151515" stroke-width="1.3" stroke-dasharray="5.5,3" stroke-linecap="butt"/><text x="338.50" y="495.50" font-family="Liberation Sans" font-size="16" font-style="italic" font-weight="normal" text-anchor="start" fill="#151515" stroke="#151515" stroke-width="0.4">в)</text><line x1="479.30" y1="494.00" x2="479.30" y2="520.00" stroke="#151515" stroke-width="1.6" stroke-linecap="butt"/><path d="M479.30,526.20 L477.00,517.20 L481.60,517.20 Z" fill="#151515"/><text x="486.00" y="505.00" font-family="Liberation Sans" font-size="12" font-style="italic" font-weight="bold" text-anchor="start" fill="#151515">1</text><line x1="357.60" y1="525.60" x2="479.30" y2="526.60" stroke="#151515" stroke-width="1.8" stroke-linecap="butt"/><line x1="479.30" y1="526.60" x2="601.00" y2="528.60" stroke="#151515" stroke-width="2.2" stroke-linecap="butt"/><line x1="357.20" y1="525.60" x2="356.40" y2="584.50" stroke="#151515" stroke-width="1.3" stroke-linecap="butt"/><line x1="356.40" y1="584.50" x2="479.30" y2="526.30" stroke="#151515" stroke-width="1.3" stroke-linecap="butt"/><line x1="363.30" y1="526.45" x2="363.30" y2="581.40" stroke="#151515" stroke-width="1.4" stroke-linecap="butt"/><line x1="369.40" y1="526.50" x2="369.40" y2="578.50" stroke="#151515" stroke-width="1.4" stroke-linecap="butt"/><line x1="375.50" y1="526.55" x2="375.50" y2="575.61" stroke="#151515" stroke-width="1.4" stroke-linecap="butt"/><line x1="381.60" y1="526.60" x2="381.60" y2="572.71" stroke="#151515" stroke-width="1.4" stroke-linecap="butt"/><line x1="387.70" y1="526.65" x2="387.70" y2="569.81" stroke="#151515" stroke-width="1.4" stroke-linecap="butt"/><line x1="393.80" y1="526.70" x2="393.80" y2="566.91" stroke="#151515" stroke-width="1.4" stroke-linecap="butt"/><line x1="399.90" y1="526.75" x2="399.90" y2="564.02" stroke="#151515" stroke-width="1.4" stroke-linecap="butt"/><line x1="406.00" y1="526.80" x2="406.00" y2="561.12" stroke="#151515" stroke-width="1.4" stroke-linecap="butt"/><line x1="412.10" y1="526.85" x2="412.10" y2="558.22" stroke="#151515" stroke-width="1.4" stroke-linecap="butt"/><line x1="418.20" y1="526.90" x2="418.20" y2="555.32" stroke="#151515" stroke-width="1.4" stroke-linecap="butt"/><line x1="424.30" y1="526.95" x2="424.30" y2="552.43" stroke="#151515" stroke-width="1.4" stroke-linecap="butt"/><line x1="430.40" y1="527.00" x2="430.40" y2="549.53" stroke="#151515" stroke-width="1.4" stroke-linecap="butt"/><line x1="436.50" y1="527.05" x2="436.50" y2="546.63" stroke="#151515" stroke-width="1.4" stroke-linecap="butt"/><line x1="442.60" y1="527.10" x2="442.60" y2="543.73" stroke="#151515" stroke-width="1.4" stroke-linecap="butt"/><line x1="448.70" y1="527.15" x2="448.70" y2="540.84" stroke="#151515" stroke-width="1.4" stroke-linecap="butt"/><line x1="454.80" y1="527.20" x2="454.80" y2="537.94" stroke="#151515" stroke-width="1.4" stroke-linecap="butt"/><line x1="460.90" y1="527.25" x2="460.90" y2="535.04" stroke="#151515" stroke-width="1.4" stroke-linecap="butt"/><line x1="467.00" y1="527.30" x2="467.00" y2="532.14" stroke="#151515" stroke-width="1.4" stroke-linecap="butt"/><line x1="473.10" y1="527.35" x2="473.10" y2="529.25" stroke="#151515" stroke-width="1.4" stroke-linecap="butt"/><text x="374.50" y="500.00" font-family="Liberation Sans" font-size="12.5" font-style="italic" font-weight="bold" text-anchor="start" fill="#151515">3l</text><line x1="370.00" y1="501.20" x2="391.50" y2="501.20" stroke="#151515" stroke-width="1.0" stroke-linecap="butt"/><line x1="390.30" y1="501.20" x2="390.30" y2="525.50" stroke="#151515" stroke-width="0.9" stroke-linecap="butt"/><text x="376.00" y="515.00" font-family="Liberation Sans" font-size="12.5" font-style="italic" font-weight="bold" text-anchor="start" fill="#151515">8</text><text x="431.00" y="500.00" font-family="Liberation Sans" font-size="12.5" font-style="italic" font-weight="bold" text-anchor="start" fill="#151515">l</text><line x1="423.00" y1="501.70" x2="442.00" y2="501.70" stroke="#151515" stroke-width="1.0" stroke-linecap="butt"/><line x1="423.00" y1="502.00" x2="397.00" y2="536.00" stroke="#151515" stroke-width="0.9" stroke-linecap="butt"/><text x="428.50" y="515.00" font-family="Liberation Sans" font-size="12.5" font-style="italic" font-weight="bold" text-anchor="start" fill="#151515">3</text><text x="332.50" y="544.50" font-family="Liberation Sans" font-size="12.5" font-style="italic" font-weight="bold" text-anchor="start" fill="#151515">l</text><line x1="327.00" y1="548.60" x2="343.00" y2="548.60" stroke="#151515" stroke-width="1.0" stroke-linecap="butt"/><line x1="343.00" y1="548.60" x2="356.50" y2="543.80" stroke="#151515" stroke-width="0.9" stroke-linecap="butt"/><text x="330.50" y="563.00" font-family="Liberation Sans" font-size="12.5" font-style="italic" font-weight="bold" text-anchor="start" fill="#151515">2</text><text x="449.50" y="556.50" font-family="Liberation Sans" font-size="12.5" font-style="italic" font-weight="bold" text-anchor="start" fill="#151515">l</text><line x1="418.00" y1="542.00" x2="446.50" y2="562.80" stroke="#151515" stroke-width="0.9" stroke-linecap="butt"/><line x1="446.50" y1="562.80" x2="461.00" y2="562.80" stroke="#151515" stroke-width="1.0" stroke-linecap="butt"/><text x="448.50" y="576.00" font-family="Liberation Sans" font-size="12.5" font-style="italic" font-weight="bold" text-anchor="start" fill="#151515">4</text><text x="537.00" y="565.00" font-family="Liberation Sans" font-size="13.5" font-style="italic" font-weight="bold" text-anchor="start" fill="#151515">M</text><line x1="539.50" y1="551.80" x2="550.50" y2="551.80" stroke="#151515" stroke-width="1.1" stroke-linecap="butt"/><line x1="356.30" y1="586.00" x2="356.30" y2="633.00" stroke="#151515" stroke-width="1.3" stroke-dasharray="5.5,3" stroke-linecap="butt"/><line x1="386.30" y1="573.00" x2="384.80" y2="818.70" stroke="#151515" stroke-width="1.2" stroke-dasharray="5.5,3" stroke-linecap="butt"/><line x1="396.40" y1="527.00" x2="395.00" y2="780.60" stroke="#151515" stroke-width="1.2" stroke-dasharray="5.5,3" stroke-linecap="butt"/><line x1="417.90" y1="558.00" x2="416.60" y2="752.00" stroke="#151515" stroke-width="1.3" stroke-dasharray="5.5,3" stroke-linecap="butt"/><text x="332.50" y="622.00" font-family="Liberation Sans" font-size="16" font-style="italic" font-weight="normal" text-anchor="start" fill="#151515" stroke="#151515" stroke-width="0.4">г)</text><path d="M356.80,618.20 L362.80,616.40 L362.80,620.00 Z" fill="#151515"/><line x1="357.00" y1="618.20" x2="395.80" y2="618.20" stroke="#151515" stroke-width="1.0" stroke-dasharray="9,3" stroke-linecap="butt"/><line x1="395.80" y1="611.00" x2="395.80" y2="618.60" stroke="#151515" stroke-width="1.0" stroke-linecap="butt"/><text x="369.50" y="616.00" font-family="Liberation Sans" font-size="12" font-style="italic" font-weight="bold" text-anchor="start" fill="#151515">l</text><text x="369.50" y="631.50" font-family="Liberation Sans" font-size="12" font-style="italic" font-weight="bold" text-anchor="start" fill="#151515">6</text><line x1="356.00" y1="633.00" x2="356.00" y2="674.00" stroke="#151515" stroke-width="1.3" stroke-linecap="butt"/><line x1="348.10" y1="637.40" x2="355.40" y2="634.00" stroke="#151515" stroke-width="1.1" stroke-linecap="butt"/><line x1="348.10" y1="640.30" x2="355.40" y2="636.90" stroke="#151515" stroke-width="1.1" stroke-linecap="butt"/><line x1="348.10" y1="643.20" x2="355.40" y2="639.80" stroke="#151515" stroke-width="1.1" stroke-linecap="butt"/><line x1="348.10" y1="646.10" x2="355.40" y2="642.70" stroke="#151515" stroke-width="1.1" stroke-linecap="butt"/><line x1="348.10" y1="649.00" x2="355.40" y2="645.60" stroke="#151515" stroke-width="1.1" stroke-linecap="butt"/><line x1="348.10" y1="651.90" x2="355.40" y2="648.50" stroke="#151515" stroke-width="1.1" stroke-linecap="butt"/><line x1="348.10" y1="654.80" x2="355.40" y2="651.40" stroke="#151515" stroke-width="1.1" stroke-linecap="butt"/><line x1="348.10" y1="657.70" x2="355.40" y2="654.30" stroke="#151515" stroke-width="1.1" stroke-linecap="butt"/><line x1="348.10" y1="660.60" x2="355.40" y2="657.20" stroke="#151515" stroke-width="1.1" stroke-linecap="butt"/><line x1="348.10" y1="663.50" x2="355.40" y2="660.10" stroke="#151515" stroke-width="1.1" stroke-linecap="butt"/><line x1="348.10" y1="666.40" x2="355.40" y2="663.00" stroke="#151515" stroke-width="1.1" stroke-linecap="butt"/><line x1="348.10" y1="669.30" x2="355.40" y2="665.90" stroke="#151515" stroke-width="1.1" stroke-linecap="butt"/><line x1="348.10" y1="672.20" x2="355.40" y2="668.80" stroke="#151515" stroke-width="1.1" stroke-linecap="butt"/><line x1="348.10" y1="675.10" x2="355.40" y2="671.70" stroke="#151515" stroke-width="1.1" stroke-linecap="butt"/><line x1="356.00" y1="645.60" x2="476.80" y2="646.20" stroke="#151515" stroke-width="1.7" stroke-linecap="butt"/><line x1="356.00" y1="661.20" x2="476.80" y2="662.00" stroke="#151515" stroke-width="2.2" stroke-linecap="butt"/><line x1="476.80" y1="645.20" x2="476.80" y2="662.50" stroke="#151515" stroke-width="1.6" stroke-linecap="butt"/><line x1="362.50" y1="645.63" x2="362.50" y2="659.74" stroke="#151515" stroke-width="1.35" stroke-linecap="butt"/><path d="M362.50,660.24 L361.10,656.84 L363.90,656.84 Z" fill="#151515"/><line x1="369.28" y1="645.67" x2="369.28" y2="659.79" stroke="#151515" stroke-width="1.35" stroke-linecap="butt"/><path d="M369.28,660.29 L367.88,656.89 L370.68,656.89 Z" fill="#151515"/><line x1="376.06" y1="645.70" x2="376.06" y2="659.83" stroke="#151515" stroke-width="1.35" stroke-linecap="butt"/><path d="M376.06,660.33 L374.66,656.93 L377.46,656.93 Z" fill="#151515"/><line x1="382.84" y1="645.73" x2="382.84" y2="659.88" stroke="#151515" stroke-width="1.35" stroke-linecap="butt"/><path d="M382.84,660.38 L381.44,656.98 L384.24,656.98 Z" fill="#151515"/><line x1="389.62" y1="645.77" x2="389.62" y2="659.92" stroke="#151515" stroke-width="1.35" stroke-linecap="butt"/><path d="M389.62,660.42 L388.23,657.02 L391.02,657.02 Z" fill="#151515"/><line x1="396.41" y1="645.80" x2="396.41" y2="659.97" stroke="#151515" stroke-width="1.35" stroke-linecap="butt"/><path d="M396.41,660.47 L395.01,657.07 L397.81,657.07 Z" fill="#151515"/><line x1="403.19" y1="645.83" x2="403.19" y2="660.01" stroke="#151515" stroke-width="1.35" stroke-linecap="butt"/><path d="M403.19,660.51 L401.79,657.11 L404.59,657.11 Z" fill="#151515"/><line x1="409.97" y1="645.87" x2="409.97" y2="660.06" stroke="#151515" stroke-width="1.35" stroke-linecap="butt"/><path d="M409.97,660.56 L408.57,657.16 L411.37,657.16 Z" fill="#151515"/><line x1="416.75" y1="645.90" x2="416.75" y2="660.10" stroke="#151515" stroke-width="1.35" stroke-linecap="butt"/><path d="M416.75,660.60 L415.35,657.20 L418.15,657.20 Z" fill="#151515"/><line x1="423.53" y1="645.94" x2="423.53" y2="660.15" stroke="#151515" stroke-width="1.35" stroke-linecap="butt"/><path d="M423.53,660.65 L422.13,657.25 L424.93,657.25 Z" fill="#151515"/><line x1="430.31" y1="645.97" x2="430.31" y2="660.19" stroke="#151515" stroke-width="1.35" stroke-linecap="butt"/><path d="M430.31,660.69 L428.91,657.29 L431.71,657.29 Z" fill="#151515"/><line x1="437.09" y1="646.00" x2="437.09" y2="660.24" stroke="#151515" stroke-width="1.35" stroke-linecap="butt"/><path d="M437.09,660.74 L435.69,657.34 L438.49,657.34 Z" fill="#151515"/><line x1="443.88" y1="646.04" x2="443.88" y2="660.28" stroke="#151515" stroke-width="1.35" stroke-linecap="butt"/><path d="M443.88,660.78 L442.48,657.38 L445.27,657.38 Z" fill="#151515"/><line x1="450.66" y1="646.07" x2="450.66" y2="660.33" stroke="#151515" stroke-width="1.35" stroke-linecap="butt"/><path d="M450.66,660.83 L449.26,657.43 L452.06,657.43 Z" fill="#151515"/><line x1="457.44" y1="646.10" x2="457.44" y2="660.37" stroke="#151515" stroke-width="1.35" stroke-linecap="butt"/><path d="M457.44,660.87 L456.04,657.47 L458.84,657.47 Z" fill="#151515"/><line x1="464.22" y1="646.14" x2="464.22" y2="660.42" stroke="#151515" stroke-width="1.35" stroke-linecap="butt"/><path d="M464.22,660.92 L462.82,657.52 L465.62,657.52 Z" fill="#151515"/><line x1="471.00" y1="646.17" x2="471.00" y2="660.46" stroke="#151515" stroke-width="1.35" stroke-linecap="butt"/><path d="M471.00,660.96 L469.60,657.56 L472.40,657.56 Z" fill="#151515"/><text x="447.50" y="639.00" font-family="Liberation Sans" font-size="13.5" font-style="italic" font-weight="bold" text-anchor="start" fill="#151515">q</text><line x1="448.50" y1="636.00" x2="432.50" y2="657.00" stroke="#151515" stroke-width="0.9" stroke-linecap="butt"/><line x1="476.80" y1="628.60" x2="476.80" y2="652.00" stroke="#151515" stroke-width="1.5" stroke-linecap="butt"/><path d="M476.80,661.50 L474.40,651.50 L479.20,651.50 Z" fill="#151515"/><text x="482.50" y="633.50" font-family="Liberation Sans" font-size="13" font-style="italic" font-weight="bold" text-anchor="start" fill="#151515">Q</text><line x1="494.50" y1="625.80" x2="501.00" y2="625.80" stroke="#151515" stroke-width="1.1" stroke-linecap="butt"/><line x1="494.50" y1="629.20" x2="501.00" y2="629.20" stroke="#151515" stroke-width="1.1" stroke-linecap="butt"/><text x="507.50" y="626.00" font-family="Liberation Sans" font-size="15" font-style="italic" font-weight="bold" text-anchor="start" fill="#151515" letter-spacing="1.5">ql</text><line x1="503.00" y1="627.40" x2="526.50" y2="627.40" stroke="#151515" stroke-width="1.2" stroke-linecap="butt"/><text x="509.50" y="641.00" font-family="Liberation Sans" font-size="13" font-style="italic" font-weight="bold" text-anchor="start" fill="#151515">2</text><path d="M486.5,648.3 C493,655 492,672 479,680" fill="none" stroke="#151515" stroke-width="1.6"/><path d="M476.50,681.30 L481.78,676.20 L483.74,680.14 Z" fill="#151515"/><text x="496.50" y="674.00" font-family="Liberation Sans" font-size="13" font-style="italic" font-weight="bold" text-anchor="start" fill="#151515">M</text><line x1="509.50" y1="666.30" x2="518.50" y2="666.30" stroke="#151515" stroke-width="1.1" stroke-linecap="butt"/><line x1="509.50" y1="669.80" x2="518.50" y2="669.80" stroke="#151515" stroke-width="1.1" stroke-linecap="butt"/><text x="522.50" y="664.50" font-family="Liberation Sans" font-size="16" font-style="italic" font-weight="bold" text-anchor="start" fill="#151515" letter-spacing="1.2">ql<tspan font-size="9.5" dy="-7">2</tspan></text><line x1="521.50" y1="668.00" x2="545.00" y2="668.00" stroke="#151515" stroke-width="1.2" stroke-linecap="butt"/><text x="525.50" y="684.00" font-family="Liberation Sans" font-size="13" font-style="italic" font-weight="bold" text-anchor="start" fill="#151515">8</text><line x1="354.60" y1="675.00" x2="354.60" y2="736.00" stroke="#151515" stroke-width="1.3" stroke-dasharray="5.5,3" stroke-linecap="butt"/><line x1="355.00" y1="690.80" x2="417.50" y2="691.20" stroke="#151515" stroke-width="1.0" stroke-linecap="butt"/><path d="M355.20,690.80 L361.20,689.00 L361.20,692.60 Z" fill="#151515"/><path d="M417.30,691.20 L411.30,693.00 L411.30,689.40 Z" fill="#151515"/><text x="374.50" y="687.00" font-family="Liberation Sans" font-size="12" font-style="italic" font-weight="bold" text-anchor="start" fill="#151515">l</text><text x="373.50" y="704.00" font-family="Liberation Sans" font-size="12" font-style="italic" font-weight="bold" text-anchor="start" fill="#151515">4</text><text x="329.50" y="714.00" font-family="Liberation Sans" font-size="16" font-style="italic" font-weight="normal" text-anchor="start" fill="#151515" stroke="#151515" stroke-width="0.4">д)</text><line x1="339.00" y1="720.30" x2="354.00" y2="720.30" stroke="#151515" stroke-width="1.0" stroke-linecap="butt"/><path d="M354.20,720.30 L348.20,722.10 L348.20,718.50 Z" fill="#151515"/><line x1="386.50" y1="720.30" x2="401.00" y2="720.30" stroke="#151515" stroke-width="1.0" stroke-linecap="butt"/><path d="M386.30,720.30 L392.30,718.50 L392.30,722.10 Z" fill="#151515"/><text x="368.50" y="718.00" font-family="Liberation Sans" font-size="12" font-style="italic" font-weight="bold" text-anchor="start" fill="#151515">l</text><line x1="365.00" y1="720.30" x2="379.00" y2="720.30" stroke="#151515" stroke-width="1.0" stroke-linecap="butt"/><text x="366.00" y="734.00" font-family="Liberation Sans" font-size="12" font-style="italic" font-weight="bold" text-anchor="start" fill="#151515">8</text><line x1="312.00" y1="735.80" x2="500.60" y2="738.80" stroke="#151515" stroke-width="1.5" stroke-linecap="butt"/><line x1="334.50" y1="765.20" x2="500.60" y2="768.30" stroke="#151515" stroke-width="1.2" stroke-linecap="butt"/><line x1="333.00" y1="825.50" x2="353.60" y2="825.80" stroke="#151515" stroke-width="1.0" stroke-linecap="butt"/><line x1="310.50" y1="856.40" x2="353.60" y2="856.40" stroke="#151515" stroke-width="1.4" stroke-linecap="butt"/><line x1="353.60" y1="736.00" x2="353.60" y2="856.40" stroke="#151515" stroke-width="1.3" stroke-linecap="butt"/><line x1="476.80" y1="738.20" x2="476.80" y2="768.20" stroke="#151515" stroke-width="1.0" stroke-linecap="butt"/><line x1="359.60" y1="737.01" x2="359.60" y2="850.53" stroke="#151515" stroke-width="1.35" stroke-linecap="butt"/><line x1="365.60" y1="737.11" x2="365.60" y2="845.01" stroke="#151515" stroke-width="1.35" stroke-linecap="butt"/><line x1="371.60" y1="737.22" x2="371.60" y2="839.63" stroke="#151515" stroke-width="1.35" stroke-linecap="butt"/><line x1="377.60" y1="737.33" x2="377.60" y2="834.39" stroke="#151515" stroke-width="1.35" stroke-linecap="butt"/><line x1="383.60" y1="737.44" x2="383.60" y2="829.29" stroke="#151515" stroke-width="1.35" stroke-linecap="butt"/><line x1="389.60" y1="737.54" x2="389.60" y2="824.34" stroke="#151515" stroke-width="1.35" stroke-linecap="butt"/><line x1="395.60" y1="737.65" x2="395.60" y2="819.53" stroke="#151515" stroke-width="1.35" stroke-linecap="butt"/><line x1="401.60" y1="737.76" x2="401.60" y2="814.86" stroke="#151515" stroke-width="1.35" stroke-linecap="butt"/><line x1="407.60" y1="737.86" x2="407.60" y2="810.33" stroke="#151515" stroke-width="1.35" stroke-linecap="butt"/><line x1="413.60" y1="737.97" x2="413.60" y2="805.95" stroke="#151515" stroke-width="1.35" stroke-linecap="butt"/><line x1="419.60" y1="738.08" x2="419.60" y2="801.70" stroke="#151515" stroke-width="1.35" stroke-linecap="butt"/><line x1="425.60" y1="738.19" x2="425.60" y2="797.60" stroke="#151515" stroke-width="1.35" stroke-linecap="butt"/><line x1="431.60" y1="738.29" x2="431.60" y2="793.64" stroke="#151515" stroke-width="1.35" stroke-linecap="butt"/><line x1="437.60" y1="738.40" x2="437.60" y2="789.83" stroke="#151515" stroke-width="1.35" stroke-linecap="butt"/><line x1="443.60" y1="738.51" x2="443.60" y2="786.15" stroke="#151515" stroke-width="1.35" stroke-linecap="butt"/><line x1="449.60" y1="738.61" x2="449.60" y2="782.62" stroke="#151515" stroke-width="1.35" stroke-linecap="butt"/><line x1="455.60" y1="738.72" x2="455.60" y2="779.23" stroke="#151515" stroke-width="1.35" stroke-linecap="butt"/><line x1="461.60" y1="738.83" x2="461.60" y2="775.99" stroke="#151515" stroke-width="1.35" stroke-linecap="butt"/><line x1="467.60" y1="738.94" x2="467.60" y2="772.88" stroke="#151515" stroke-width="1.35" stroke-linecap="butt"/><line x1="473.60" y1="739.04" x2="473.60" y2="769.92" stroke="#151515" stroke-width="1.35" stroke-linecap="butt"/><line x1="353.60" y1="825.80" x2="476.80" y2="768.00" stroke="#151515" stroke-width="1.1" stroke-linecap="butt"/><polyline points="353.60,856.20 356.68,853.27 359.76,850.38 362.84,847.53 365.92,844.72 369.00,841.94 372.08,839.21 375.16,836.50 378.24,833.84 381.32,831.21 384.40,828.62 387.48,826.07 390.56,823.56 393.64,821.08 396.72,818.64 399.80,816.24 402.88,813.88 405.96,811.55 409.04,809.27 412.12,807.01 415.20,804.80 418.28,802.62 421.36,800.49 424.44,798.38 427.52,796.32 430.60,794.29 433.68,792.30 436.76,790.35 439.84,788.44 442.92,786.56 446.00,784.73 449.08,782.92 452.16,781.16 455.24,779.43 458.32,777.74 461.40,776.09 464.48,774.48 467.56,772.90 470.64,771.37 473.72,769.86 476.80,768.40" fill="none" stroke="#151515" stroke-width="1.5" stroke-linejoin="round"/><line x1="416.00" y1="728.00" x2="416.00" y2="734.50" stroke="#151515" stroke-width="0.9" stroke-linecap="butt"/><line x1="353.60" y1="728.00" x2="353.60" y2="735.00" stroke="#151515" stroke-width="0.9" stroke-linecap="butt"/><circle cx="416.00" cy="752.00" r="1.2" fill="#151515"/><circle cx="395.00" cy="780.60" r="1.3" fill="#151515"/><circle cx="384.80" cy="818.70" r="1.2" fill="#151515"/><line x1="316.70" y1="737.00" x2="316.70" y2="855.00" stroke="#151515" stroke-width="1.0" stroke-linecap="butt"/><path d="M316.70,736.30 L318.50,743.30 L314.90,743.30 Z" fill="#151515"/><path d="M316.70,856.00 L314.90,849.00 L318.50,849.00 Z" fill="#151515"/><line x1="336.80" y1="766.50" x2="336.80" y2="824.50" stroke="#151515" stroke-width="1.0" stroke-dasharray="7,3" stroke-linecap="butt"/><path d="M336.80,765.70 L338.60,772.70 L335.00,772.70 Z" fill="#151515"/><path d="M336.80,825.20 L335.00,818.20 L338.60,818.20 Z" fill="#151515"/><line x1="336.80" y1="826.00" x2="336.80" y2="856.00" stroke="#151515" stroke-width="0.9" stroke-linecap="butt"/><line x1="336.80" y1="858.00" x2="336.80" y2="874.00" stroke="#151515" stroke-width="1.0" stroke-linecap="butt"/><path d="M336.80,856.80 L338.60,863.80 L335.00,863.80 Z" fill="#151515"/><text x="291.00" y="805.70" font-family="Liberation Sans" font-size="13" font-style="italic" font-weight="bold" text-anchor="start" fill="#151515" transform="rotate(-90 291.00 805.70)" letter-spacing="1.5">ql<tspan font-size="8.5" dy="-6.5">2</tspan></text><line x1="301.50" y1="786.00" x2="301.50" y2="806.00" stroke="#151515" stroke-width="1.2" stroke-linecap="butt"/><text x="313.80" y="803.50" font-family="Liberation Sans" font-size="13.5" font-style="italic" font-weight="bold" text-anchor="start" fill="#151515" transform="rotate(-90 313.80 803.50)">2</text><text x="328.30" y="807.50" font-family="Liberation Sans" font-size="13" font-style="italic" font-weight="bold" text-anchor="start" fill="#151515" transform="rotate(-90 328.30 807.50)" letter-spacing="1.5">ql<tspan font-size="8.5" dy="-6.5">2</tspan></text><text x="349.20" y="803.50" font-family="Liberation Sans" font-size="13" font-style="italic" font-weight="bold" text-anchor="start" fill="#151515" transform="rotate(-90 349.20 803.50)">4</text><text x="328.30" y="849.00" font-family="Liberation Sans" font-size="13" font-style="italic" font-weight="bold" text-anchor="start" fill="#151515" transform="rotate(-90 328.30 849.00)" letter-spacing="1.5">ql<tspan font-size="8.5" dy="-6.5">2</tspan></text><text x="349.20" y="845.50" font-family="Liberation Sans" font-size="13" font-style="italic" font-weight="bold" text-anchor="start" fill="#151515" transform="rotate(-90 349.20 845.50)">8</text><line x1="494.20" y1="719.60" x2="494.20" y2="732.00" stroke="#151515" stroke-width="1.3" stroke-linecap="butt"/><path d="M494.20,738.00 L492.20,731.00 L496.20,731.00 Z" fill="#151515"/><line x1="493.20" y1="775.00" x2="493.20" y2="785.50" stroke="#151515" stroke-width="1.3" stroke-linecap="butt"/><path d="M493.20,768.90 L495.20,775.90 L491.20,775.90 Z" fill="#151515"/><text x="488.50" y="764.00" font-family="Liberation Serif" font-size="13" font-style="italic" font-weight="normal" text-anchor="start" fill="#151515" transform="rotate(-90 488.50 764.00)">ql<tspan font-size="8.5" dy="-6.5">2</tspan></text><line x1="493.50" y1="748.80" x2="493.50" y2="762.70" stroke="#151515" stroke-width="1.1" stroke-linecap="butt"/><text x="510.50" y="761.50" font-family="Liberation Sans" font-size="13.5" font-style="italic" font-weight="bold" text-anchor="start" fill="#151515" transform="rotate(-90 510.50 761.50)">8</text><line x1="511.00" y1="775.50" x2="514.50" y2="767.50" stroke="#151515" stroke-width="0.9" stroke-linecap="butt"/><text x="404.20" y="891.30" font-family="Liberation Serif" font-size="15" font-style="normal" font-weight="normal" text-anchor="start" fill="#151515" textLength="28.5" lengthAdjust="spacing" stroke="#151515" stroke-width="0.3">Рис.</text><text x="440.40" y="891.30" font-family="Liberation Serif" font-size="15" font-style="normal" font-weight="normal" text-anchor="start" fill="#151515" textLength="33" lengthAdjust="spacing" stroke="#151515" stroke-width="0.3">25.11</text></svg>
</body></html>
